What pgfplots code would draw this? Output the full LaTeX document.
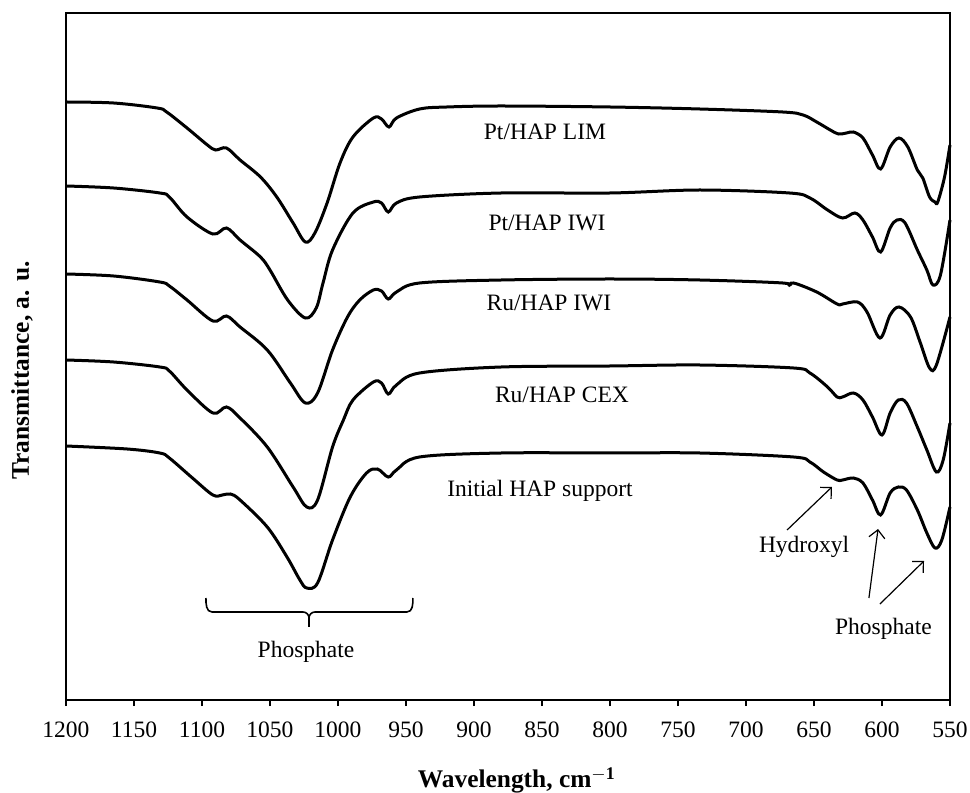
\documentclass[border=0pt]{standalone}
\usepackage{pgfplots}
\pgfplotsset{compat=1.18}
\usepackage{pgfplotstable}
\usepackage{fontspec}
\setmainfont{Liberation Serif}
\usetikzlibrary{arrows.meta}

\pgfplotstableread{
x y
1200 598
1165 597
1133 592
1126 588
1111 572
1096 555
1090 550
1082 552
1072 540
1057 523
1045 503
1033 477
1024 458
1017 467
1008 497
998.5 537
989 563
974 582
968 581
962.5 573
957 582
940 591
920 593
880 594
800 593
734 591
673 588
658 585
648 578
638 570
632 566
626 567
621 568
614 562
607 545
601 531
594 553
587.5 562
581 553
574 530
570 522
565 503
561 498
559 498
554 523
550 555
}\ptlim

\pgfplotstableread{
x y
1200 514
1165 512
1131 507
1124 503
1111 483
1092 466
1082 472
1072 460
1057 443
1050 430
1037 400
1024 382
1016 392
1011 417
1004 450
989 487
974 498
968 497
963 488
957 497
940 503
880 507
800 507
734 510
668 507
653 502
640 490
629 482
620 487
614 480
607 463
601 448
594 472
589 480
583 477
574 450
567 430
562.5 415
557 425
550 480
}\ptiwi

\pgfplotstableread{
x y
1200 426
1165 424
1131 418
1124 414
1111 400
1092 379
1082 384
1072 373
1052 350
1035 317
1024 297
1015 307
1004 350
993 383
984 400
974 410
968 409
963 401
957 408
940 417
880 420
800 421
734 420
673 417
669 414
665 417
648 408
633 396
629 396
618 398
611 388
601.5 362
594 385
587.5 393
579 383
572 358
565 332
560 335
550 383
}\ruiwi

\pgfplotstableread{
x y
1200 340
1165 338
1131 333
1124 329
1111 310
1092 287
1082 293
1072 282
1052 253
1033 213
1023 193
1015 200
1004 253
996 280
989 300
974 318
968 317
963 306
957 315
940 327
880 333
800 334
734 335
665 332
653 327
640 313
633 303
629 303
621 307
614 300
607 283
600 265
594 287
588 300
582 297
574 273
567 250
560 228
555 240
550 277
}\rucex

\pgfplotstableread{
x y
1200 254
1155 251
1131 247
1124 242
1107 222
1092 205
1085 205
1079 206
1072 200
1052 173
1037.5 143
1028 120
1023 112
1015 117
1004 160
991 203
979 227
971 231
963 223
957 230
940 243
880 247
800 247
734 247
665 243
653 238
643 228
633 220
629 220
621 222
614 217
607 200
601 185
594 207
588 213
582 210
574 190
567 167
561 152
556 160
550 193
}\hap

\pgfplotsset{spec/.style={black, line width=1.5pt, smooth, tension=0.55, mark=none}}

\begin{document}
\begin{tikzpicture}
\begin{axis}[
  scale only axis,
  width=442pt, height=343.5pt,
  xmin=550, xmax=1200, ymin=0, ymax=687,
  x dir=reverse,
  xtick={550,600,...,1200},
  ytick=\empty,
  xtick align=outside,
  xtick pos=left,
  major tick length=3pt,
  tick style={black, line width=0.8pt},
  axis line style={black, line width=0.7pt},
  /pgf/number format/assume math mode=true,
  /pgf/number format/1000 sep={},
  xticklabel style={font=\fontsize{11.75}{14}\selectfont, anchor=base, yshift=-15.5pt},
  xlabel={\textbf{Wavelength, cm$^{\mathbf{-1}}$}},
  xlabel style={font=\fontsize{12.7}{15}\selectfont, at={(axis description cs:0.510,-0.128)}, anchor=base},
  ylabel={\textbf{Transmittance, a. u.}},
  ylabel style={font=\fontsize{12.7}{15}\selectfont, at={(axis description cs:-0.0498,0.480)}, anchor=center},
  clip=false,
]
\coordinate (sw) at (rel axis cs:0,0);
\draw[line width=1.1pt] (rel axis cs:0,1) -- (rel axis cs:0,0) -- (rel axis cs:1,0);
\addplot[spec] table[x=x,y=y] {\ptlim};
\addplot[spec] table[x=x,y=y] {\ptiwi};
\addplot[spec] table[x=x,y=y] {\ruiwi};
\addplot[spec] table[x=x,y=y] {\rucex};
\addplot[spec] table[x=x,y=y] {\hap};

\begin{scope}[font=\fontsize{11.75}{14}\selectfont]
\node[anchor=base] at (axis cs:847.8,560) {Pt/HAP LIM};
\node[anchor=base] at (axis cs:846.3,469) {Pt/HAP IWI};
\node[anchor=base] at (axis cs:844.9,389) {Ru/HAP IWI};
\node[anchor=base] at (axis cs:835.3,297) {Ru/HAP CEX};
\node[anchor=base] at (axis cs:851.5,203) {Initial HAP support};
\node[anchor=base] at (axis cs:1023.5,42) {Phosphate};
\node[anchor=base] at (axis cs:657.3,147) {Hydroxyl};
\node[anchor=base] at (axis cs:598.9,65) {Phosphate};
\end{scope}

\draw[line width=0.8pt] (axis cs:1097.1,102) to[out=-90,in=180] (axis cs:1092.6,88) -- (axis cs:1025.7,88) to[out=0,in=90] (axis cs:1021.3,82) -- (axis cs:1021.3,73);
\draw[line width=0.8pt] (axis cs:1021.3,82) to[out=90,in=180] (axis cs:1016.9,88) -- (axis cs:949.3,88) to[out=0,in=-90] (axis cs:944.9,102);

\draw[line width=0.6pt, -{Straight Barb[length=4pt,width=8pt]}] (axis cs:669.8,170) -- (axis cs:636.8,213);
\draw[line width=0.6pt, -{Straight Barb[length=4pt,width=8pt]}] (axis cs:609.6,102) -- (axis cs:602.9,171);
\draw[line width=0.6pt, -{Straight Barb[length=4pt,width=8pt]}] (axis cs:601.5,96) -- (axis cs:569.1,139);
\end{axis}
\pgfresetboundingbox
\path[use as bounding box] (sw) ++(-33pt,-46.5pt) rectangle ++(485pt,396.5pt);
\end{tikzpicture}
\end{document}
